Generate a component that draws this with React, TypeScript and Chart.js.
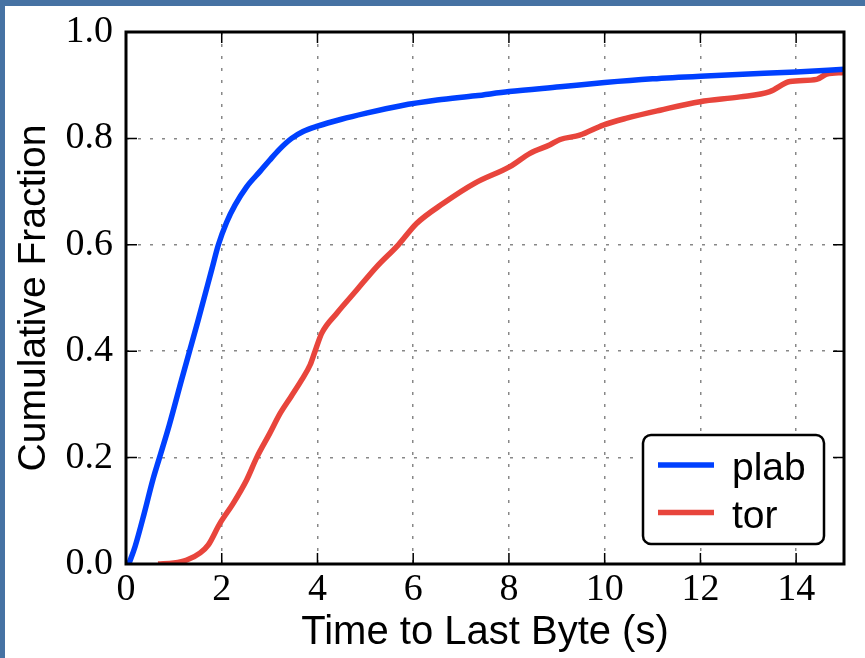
import React, { useEffect, useRef } from "react";
import { Chart, registerables } from "chart.js";

Chart.register(...registerables);

// ---- Data ----
const plabTimes = [0.06, 0.19, 0.38, 0.56, 0.7, 0.9, 1.16, 1.5, 1.79, 1.93, 2.1, 2.28, 2.52, 2.8, 3.0, 3.2, 3.46, 3.7, 4.0, 4.5, 5.0, 5.72, 6.5, 7.3, 8.0, 9.07, 10.0, 11.0, 12.0, 13.0, 14.0, 15.0];
const plabFractions = [0.0, 0.033, 0.095, 0.158, 0.2, 0.26, 0.346, 0.456, 0.553, 0.6, 0.642, 0.675, 0.709, 0.738, 0.759, 0.779, 0.8, 0.813, 0.823, 0.836, 0.847, 0.861, 0.872, 0.88, 0.888, 0.897, 0.905, 0.912, 0.917, 0.921, 0.925, 0.93];

const torTimes = [0.67, 1.0, 1.27, 1.55, 1.72, 1.96, 2.24, 2.52, 2.73, 3.0, 3.22, 3.45, 3.67, 3.85, 3.95, 4.09, 4.4, 4.82, 5.24, 5.69, 6.07, 6.63, 7.29, 8.02, 8.44, 8.86, 9.07, 9.48, 9.97, 10.46, 11.16, 11.99, 12.83, 13.45, 13.87, 14.43, 14.64, 15.0];
const torFractions = [0.0, 0.002, 0.0075, 0.021, 0.036, 0.076, 0.114, 0.158, 0.2, 0.245, 0.283, 0.315, 0.346, 0.375, 0.4, 0.434, 0.471, 0.515, 0.559, 0.6, 0.64, 0.678, 0.716, 0.747, 0.772, 0.788, 0.798, 0.806, 0.825, 0.838, 0.853, 0.869, 0.878, 0.888, 0.907, 0.911, 0.921, 0.924];

const seriesNames = ["plab", "tor"];
const seriesColors = ["#0040FF", "#E8453C"];

const xTicks = [0, 2, 4, 6, 8, 10, 12, 14];
const yTicks = [0.0, 0.2, 0.4, 0.6, 0.8, 1.0];

const xTitle = "Time to Last Byte (s)";
const yTitle = "Cumulative Fraction";

const toPoints = (xs: number[], ys: number[]) => xs.map((x, i) => ({ x, y: ys[i] }));

const framePlugin = {
  id: "framePlugin",
  afterDraw(chart: any) {
    const { ctx, chartArea } = chart;
    const { left, right, top, bottom } = chartArea;
    const xs = chart.scales.x;
    const ys = chart.scales.y;
    ctx.save();
    // inward ticks
    ctx.strokeStyle = "#000";
    ctx.lineWidth = 1.5;
    const tl = 11;
    xTicks.forEach((v) => {
      const px = xs.getPixelForValue(v);
      ctx.beginPath();
      ctx.moveTo(px, bottom);
      ctx.lineTo(px, bottom - tl);
      ctx.moveTo(px, top);
      ctx.lineTo(px, top + tl);
      ctx.stroke();
    });
    yTicks.forEach((v) => {
      const py = ys.getPixelForValue(v);
      ctx.beginPath();
      ctx.moveTo(left, py);
      ctx.lineTo(left + tl, py);
      ctx.moveTo(right, py);
      ctx.lineTo(right - tl, py);
      ctx.stroke();
    });
    // frame
    ctx.lineWidth = 3;
    ctx.strokeRect(left, top, right - left, bottom - top);

    // legend
    const bx = right - 201, by = bottom - 129, bw = 181, bh = 109, r = 8;
    ctx.beginPath();
    ctx.moveTo(bx + r, by);
    ctx.lineTo(bx + bw - r, by);
    ctx.arcTo(bx + bw, by, bx + bw, by + r, r);
    ctx.lineTo(bx + bw, by + bh - r);
    ctx.arcTo(bx + bw, by + bh, bx + bw - r, by + bh, r);
    ctx.lineTo(bx + r, by + bh);
    ctx.arcTo(bx, by + bh, bx, by + bh - r, r);
    ctx.lineTo(bx, by + r);
    ctx.arcTo(bx, by, bx + r, by, r);
    ctx.closePath();
    ctx.fillStyle = "#fff";
    ctx.fill();
    ctx.lineWidth = 2.5;
    ctx.strokeStyle = "#000";
    ctx.stroke();

    seriesNames.forEach((name, i) => {
      const ly = by + 30 + i * 47.5;
      ctx.beginPath();
      ctx.strokeStyle = seriesColors[i];
      ctx.lineWidth = 5.5;
      ctx.moveTo(bx + 15, ly);
      ctx.lineTo(bx + 71, ly);
      ctx.stroke();
      ctx.fillStyle = "#000";
      ctx.font = "39px 'Liberation Sans', Arial, sans-serif";
      ctx.textBaseline = "alphabetic";
      ctx.textAlign = "left";
      ctx.fillText(name, bx + 89, ly + 15);
    });
    ctx.restore();
  },
};

export default function App() {
  const canvasRef = useRef<HTMLCanvasElement | null>(null);

  useEffect(() => {
    document.body.style.margin = "0";
    const canvas = canvasRef.current;
    if (!canvas) return;
    const tickFont = { family: "'Liberation Serif', 'Times New Roman', serif", size: 38, lineHeight: 1 };
    const xTitleFont = { family: "'Liberation Sans', Arial, sans-serif", size: 40, lineHeight: 1 };
    const yTitleFont = { family: "'Liberation Sans', Arial, sans-serif", size: 39, lineHeight: 1 };
    const chart = new Chart(canvas, {
      type: "scatter",
      data: {
        datasets: [
          {
            label: seriesNames[0],
            data: toPoints(plabTimes, plabFractions),
            showLine: true,
            borderColor: seriesColors[0],
            backgroundColor: seriesColors[0],
            borderWidth: 5.5,
            pointRadius: 0,
            cubicInterpolationMode: "monotone",
          },
          {
            label: seriesNames[1],
            data: toPoints(torTimes, torFractions),
            showLine: true,
            borderColor: seriesColors[1],
            backgroundColor: seriesColors[1],
            borderWidth: 5.5,
            pointRadius: 0,
            cubicInterpolationMode: "monotone",
          },
        ],
      },
      options: {
        responsive: false,
        animation: false,
        devicePixelRatio: 1,
        layout: { padding: { top: 26, right: 21, left: 0, bottom: 0 } },
        plugins: { legend: { display: false }, tooltip: { enabled: false } },
        scales: {
          x: {
            type: "linear",
            min: 0,
            max: 15,
            afterFit: (s: any) => {
              s.height = 94;
              s.paddingLeft = 0;
              s.paddingRight = 0;
            },
            afterBuildTicks: (s: any) => { s.ticks = xTicks.map((v) => ({ value: v })); },
            ticks: {
              color: "#000",
              font: tickFont,
              padding: 7,
              maxRotation: 0,
              autoSkip: false,
              callback: (v: any) => String(v),
            },
            grid: { color: "#888", lineWidth: 1.5, drawTicks: false },
            border: { display: false, dash: [3, 9] },
            title: { display: true, text: xTitle, color: "#000", font: xTitleFont, padding: { top: 0, bottom: 5 } },
          },
          y: {
            type: "linear",
            min: 0,
            max: 1,
            afterFit: (s: any) => {
              s.width = 121;
              s.paddingTop = 0;
              s.paddingBottom = 0;
            },
            afterBuildTicks: (s: any) => { s.ticks = yTicks.map((v) => ({ value: v })); },
            ticks: {
              color: "#000",
              font: tickFont,
              padding: 13,
              autoSkip: false,
              callback: (v: any) => Number(v).toFixed(1),
            },
            grid: { color: "#888", lineWidth: 1.5, drawTicks: false },
            border: { display: false, dash: [3, 9] },
            title: { display: true, text: yTitle, color: "#000", font: yTitleFont, padding: { top: 10, bottom: 0 } },
          },
        },
      },
      plugins: [framePlugin],
    } as any);
    return () => chart.destroy();
  }, []);

  return (
    <div
      style={{
        width: 865,
        height: 658,
        boxSizing: "border-box",
        borderTop: "6px solid #4672A3",
        borderLeft: "5px solid #4672A3",
        background: "#fff",
        overflow: "hidden",
      }}
    >
      <canvas ref={canvasRef} width={860} height={652} style={{ display: "block", width: 860, height: 652 }} />
    </div>
  );
}
